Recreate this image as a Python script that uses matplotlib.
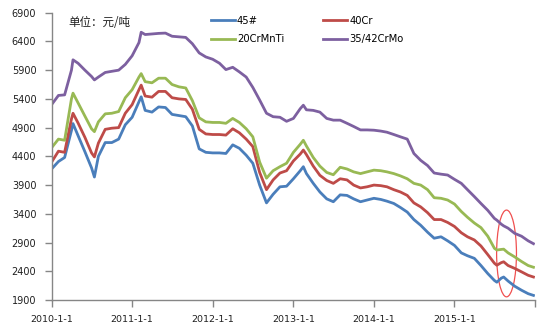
import matplotlib
matplotlib.use("Agg")
import matplotlib.pyplot as plt
import matplotlib.dates as mdates
from matplotlib.patches import Ellipse
import pandas as pd

plt.rcParams['font.family'] = ['DejaVu Sans', 'Noto Sans CJK SC']

dates = [
    "2010-01-01", "2010-02-01", "2010-03-01", "2010-04-01", "2010-04-08", "2010-05-01", "2010-06-01",
    "2010-07-01", "2010-07-14", "2010-08-01", "2010-09-01", "2010-10-01", "2010-11-01", "2010-12-01",
    "2011-01-01", "2011-02-01", "2011-02-11", "2011-03-01", "2011-04-01", "2011-05-01", "2011-06-01",
    "2011-07-01", "2011-08-01", "2011-09-01", "2011-10-01", "2011-11-01", "2011-12-01",
    "2012-01-01", "2012-02-01", "2012-03-01", "2012-04-01", "2012-05-01", "2012-06-01",
    "2012-07-01", "2012-08-01", "2012-09-01", "2012-10-01", "2012-11-01", "2012-12-01",
    "2013-01-01", "2013-02-01", "2013-02-15", "2013-03-01", "2013-04-01", "2013-05-01", "2013-06-01",
    "2013-07-01", "2013-08-01", "2013-09-01", "2013-10-01", "2013-11-01", "2013-12-01",
    "2014-01-01", "2014-02-01", "2014-03-01", "2014-04-01", "2014-05-01", "2014-06-01",
    "2014-07-01", "2014-08-01", "2014-09-01", "2014-10-01", "2014-11-01", "2014-12-01",
    "2015-01-01", "2015-02-01", "2015-03-01", "2015-04-01", "2015-05-01", "2015-06-01",
    "2015-07-01", "2015-07-12", "2015-08-01", "2015-08-12", "2015-09-01", "2015-10-01",
    "2015-11-01", "2015-12-01", "2015-12-25",
]

s45 = [
    4180, 4310, 4380, 4850, 4970, 4760, 4480, 4200, 4040, 4400, 4640, 4640, 4700, 4950,
    5080, 5350, 5437, 5200, 5170, 5260, 5250, 5130, 5110, 5090, 4930, 4530, 4470,
    4460, 4460, 4450, 4600, 4540, 4420, 4280, 3900, 3590, 3740, 3870, 3880,
    4010, 4150, 4220, 4100, 3930, 3780, 3660, 3610, 3730, 3720, 3660, 3610, 3640,
    3670, 3650, 3620, 3580, 3510, 3430, 3300, 3200, 3080, 2975, 3000, 2930,
    2850, 2720, 2670, 2625, 2500, 2360, 2240, 2210, 2280, 2300, 2230, 2140, 2070, 2010, 1980,
]
s40cr = [
    4300, 4490, 4470, 5050, 5150, 4980, 4730, 4460, 4390, 4630, 4870, 4890, 4900, 5150,
    5300, 5560, 5640, 5450, 5430, 5530, 5530, 5420, 5400, 5390, 5220, 4870, 4790,
    4780, 4780, 4770, 4880, 4810, 4700, 4570, 4120, 3820, 3990, 4110, 4150,
    4320, 4440, 4510, 4430, 4230, 4070, 3980, 3930, 4010, 3990, 3900, 3850, 3870,
    3900, 3890, 3870, 3820, 3780, 3720, 3590, 3520, 3420, 3300, 3300, 3250,
    3180, 3070, 3000, 2945, 2840, 2690, 2540, 2505, 2550, 2565, 2500, 2450, 2390, 2330, 2300,
]
s20crmnti = [
    4550, 4700, 4680, 5400, 5500, 5330, 5100, 4880, 4830, 5000, 5140, 5150, 5180, 5420,
    5560, 5780, 5840, 5700, 5680, 5760, 5760, 5650, 5610, 5590, 5370, 5070, 5000,
    4990, 4990, 4975, 5060, 4990, 4880, 4740, 4300, 4020, 4150, 4220, 4280,
    4470, 4610, 4680, 4580, 4380, 4230, 4120, 4080, 4210, 4180, 4130, 4100, 4130,
    4160, 4150, 4130, 4100, 4060, 4010, 3930, 3900, 3820, 3680, 3670, 3640,
    3570, 3440, 3340, 3240, 3160, 3010, 2800, 2770, 2780, 2785, 2720, 2650, 2570, 2500, 2470,
]
s3542crmo = [
    5300, 5460, 5470, 5900, 6080, 6020, 5900, 5790, 5730, 5780, 5860, 5880, 5900, 6000,
    6150, 6380, 6560, 6520, 6530, 6540, 6545, 6490, 6480, 6470, 6360, 6200, 6130,
    6090, 6020, 5910, 5950, 5870, 5780, 5600, 5380, 5150, 5090, 5080, 5010,
    5060, 5230, 5290, 5210, 5200, 5170, 5060, 5030, 5030, 4975, 4920, 4860, 4860,
    4855, 4840, 4820, 4780, 4740, 4700, 4450, 4330, 4240, 4110, 4090, 4075,
    4000, 3930, 3820, 3700, 3580, 3460, 3320, 3290, 3220, 3190, 3150, 3060, 3010, 2930, 2880,
]

series_names = ["45#", "40Cr", "20CrMnTi", "35/42CrMo"]
colors = ["#4A7EBB", "#BE4B48", "#98B954", "#7D60A0"]
tick_dates = ["2010-01-01", "2011-01-01", "2012-01-01", "2013-01-01", "2014-01-01", "2015-01-01", "2016-01-01"]
tick_labels = ["2010-1-1", "2011-1-1", "2012-1-1", "2013-1-1", "2014-1-1", "2015-1-1", ""]
y_ticks = [1900, 2400, 2900, 3400, 3900, 4400, 4900, 5400, 5900, 6400, 6900]

x = pd.to_datetime(dates)

fig = plt.figure(figsize=(5.44, 3.35), dpi=100)
ax = fig.add_axes([51.6 / 544, 1 - 300 / 335, (535 - 51.6) / 544, (300 - 12.7) / 335])

handles = []
for vals, name, c in zip([s45, s40cr, s20crmnti, s3542crmo], series_names, colors):
    h, = ax.plot(x, vals, color=c, lw=2.0, label=name, solid_joinstyle='round')
    handles.append(h)

ax.set_xlim(pd.Timestamp("2010-01-01"), pd.Timestamp("2016-01-01"))
ax.set_ylim(1900, 6900)
ax.set_yticks(y_ticks)
ax.set_yticklabels([str(v) for v in y_ticks])
ax.set_xticks(pd.to_datetime(tick_dates))
ax.set_xticklabels(tick_labels)

for s in ["top", "right"]:
    ax.spines[s].set_visible(False)
for s in ["left", "bottom"]:
    ax.spines[s].set_color("#868686")
    ax.spines[s].set_linewidth(1.0)
ax.tick_params(axis="both", colors="#868686", length=5, width=1.0, direction="out")
ax.tick_params(axis="y", labelsize=7.0, labelcolor="#1F1F1F", pad=6)
ax.tick_params(axis="x", labelsize=6.8, labelcolor="#1F1F1F", pad=6)

# highlight ellipse
cx = mdates.date2num(pd.Timestamp("2015-08-25"))
ax.add_patch(Ellipse((cx, 2710), width=90, height=1510, fill=False,
                     edgecolor="#F05050", lw=0.9))

fig.text(68 / 544, 1 - 22.5 / 335, "单位：元/吨", fontsize=8.3, va="center", ha="left",
         family=["Noto Sans CJK SC", "DejaVu Sans"], color="#1F1F1F")

# legend order: row-wise 45#, 40Cr / 20CrMnTi, 35/42CrMo
order = [0, 2, 1, 3]
leg = fig.legend([handles[i] for i in order], [series_names[i] for i in order],
                 loc="upper left", bbox_to_anchor=(211 / 544, 1 - 15.5 / 335),
                 ncol=2, frameon=False, fontsize=7.2, handlelength=2.4,
                 handletextpad=0.2, columnspacing=3.9, labelspacing=0.85,
                 borderpad=0, borderaxespad=0)

fig.savefig("out.png", dpi=100)
